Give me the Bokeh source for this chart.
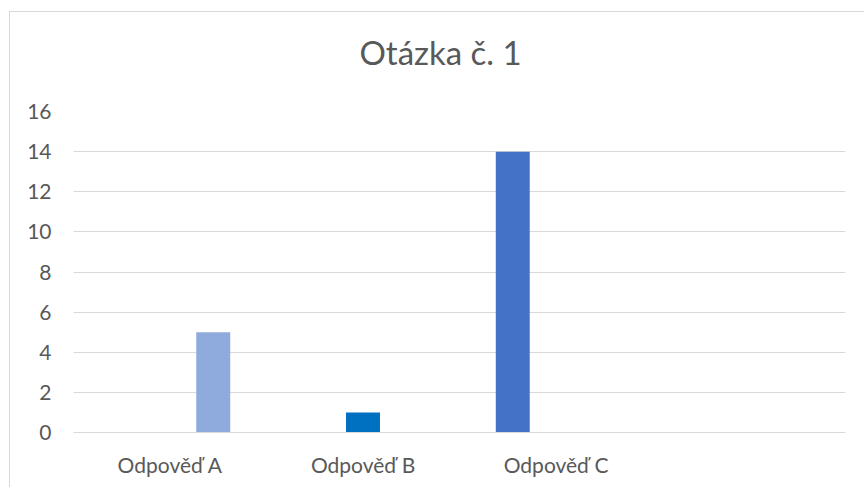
from bokeh.plotting import figure
from bokeh.models import FactorRange, Range1d, FixedTicker, ColumnDataSource, Title
from bokeh.transform import dodge
from bokeh.embed import file_html
from bokeh.resources import INLINE

# ---- data ----
categories = ["Odpověď A", "Odpověď B", "Odpověď C", " "]
series_names = ["Řada 1", "Řada 2", "Řada 3"]
series_1 = [0, 0, 14, 0]
series_2 = [0, 1, 0, 0]
series_3 = [5, 0, 0, 0]
y_ticks = [0, 2, 4, 6, 8, 10, 12, 14, 16]
title_text = "Otázka č. 1"

colors = ["#4472C4", "#0070C0", "#8FAADC"]
offsets = [-0.224, 0.0, 0.224]
TEXT = "#595959"
GRID = "#D9D9D9"
FONT = "Lato"

source = ColumnDataSource(dict(cat=categories, s1=series_1, s2=series_2, s3=series_3))

p = figure(
    x_range=FactorRange(factors=categories, range_padding=0),
    y_range=Range1d(0, 16),
    width=855, height=476,
    output_backend="svg", toolbar_location=None,
    min_border_left=63, min_border_right=20, min_border_top=99, min_border_bottom=56,
    title=None,
)

for col, off, c, name in zip(["s1", "s2", "s3"], offsets, colors, series_names):
    p.vbar(x=dodge("cat", off, range=p.x_range), top=col, width=0.176,
           source=source, fill_color=c, line_color=None)

# spacer between the plot area and the title
spacer = Title(text=" ", text_font=FONT, text_font_size="16px", standoff=17)
p.add_layout(spacer, "above")

main_title = Title(text=title_text, text_font=FONT, text_font_size="33px",
                   text_font_style="normal", text_color=TEXT,
                   align="left", offset=286, vertical_align="top", standoff=0)
p.add_layout(main_title, "above")

p.xaxis.axis_line_color = GRID
p.xaxis.major_tick_line_color = None
p.xaxis.minor_tick_line_color = None
p.xaxis.major_tick_out = 0
p.xaxis.major_tick_in = 0
p.xaxis.major_label_text_font = FONT
p.xaxis.major_label_text_font_size = "21px"
p.xaxis.major_label_text_color = TEXT
p.xaxis.major_label_standoff = 19

p.yaxis.ticker = FixedTicker(ticks=y_ticks)
p.yaxis.axis_line_color = None
p.yaxis.major_tick_line_color = None
p.yaxis.minor_tick_line_color = None
p.yaxis.major_tick_out = 0
p.yaxis.major_tick_in = 0
p.yaxis.major_label_text_font = FONT
p.yaxis.major_label_text_font_size = "21px"
p.yaxis.major_label_text_color = TEXT
p.yaxis.major_label_standoff = 22

p.xgrid.grid_line_color = None
p.ygrid.grid_line_color = GRID
p.ygrid.grid_line_width = 1
p.outline_line_color = None

p.styles = {"margin-left": "9px", "margin-top": "11px",
            "border-left": "1px solid #D9D9D9", "border-top": "1px solid #D9D9D9"}

open("out.html", "w").write(file_html(p, INLINE))
